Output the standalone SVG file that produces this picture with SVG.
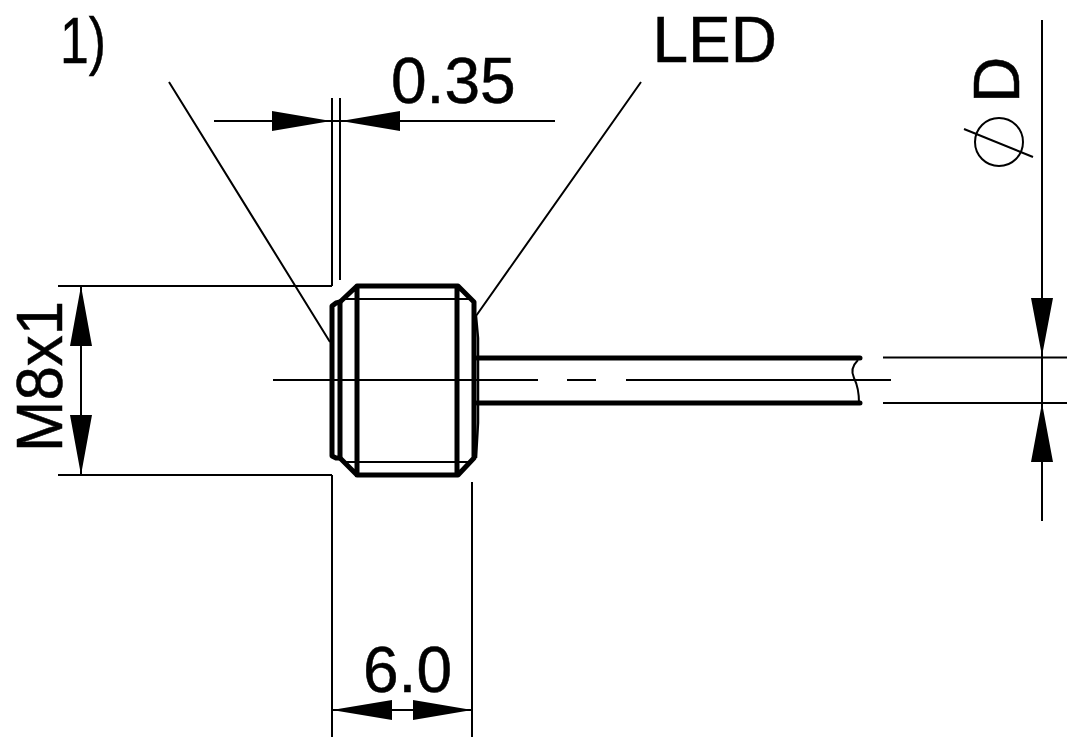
<svg xmlns="http://www.w3.org/2000/svg" width="1082" height="750" viewBox="0 0 1082 750">
<style>
.thin{fill:none;stroke:#000;stroke-width:2}
.thick{fill:none;stroke:#000;stroke-width:5;stroke-linejoin:round;stroke-linecap:round}
.arrow{fill:#000;stroke:none}
.label{font-family:"Liberation Sans",Arial,sans-serif;font-size:64px;fill:#000;stroke:#000;stroke-width:.5}
</style>
<rect width="1082" height="750" fill="#fff"/>
<g id="connectors">
<path class="thin" d="M169 82L330 342M641 82L476 316"/>
<path class="thin" d="M214 121H555M332 98V286M340 98V280M58 286H332M58 475H332"/>
<path class="thin" d="M81 286V475M332 475V737M472 482V737M332 710H472"/>
<path class="thin" d="M1042 20V521M883 357.500H1067M883 403H1067"/>
<path class="thin" d="M273 380H538M567 380H596M626 380H891"/>
<path class="thin" d="M858 360C852 366 851 372 854 378C858 386 859 392 859 403"/>
<path class="arrow" d="M331 121L272 111V131ZM341 121L400 111V131Z"/>
<path class="arrow" d="M81 286L70 346H92ZM81 475L70 415H92Z"/>
<path class="arrow" d="M332 710L392 700V720ZM472 710L413 700V720Z"/>
<path class="arrow" d="M1042 356L1031 298H1053ZM1042 403L1031 462H1053Z"/>
</g>
<g id="sensor-body">
<path class="thick" d="M357 286H458L474 302V458L458 475H357L340 458V302ZM357 286V475M457 286V475"/>
<path class="thick" d="M340 302L336 303L332 306V456L336 458L340 458"/>
<path class="thin" d="M343 299H471M343 462H471"/>
<path d="M476 316L478 338V423L476 458" fill="none" stroke="#000" stroke-width="2.500"/>
</g>
<g id="cable">
<path class="thick" d="M477 358H860M477 403H860"/>
</g>
<g id="labels">
<text class="label" x="60" y="63" textLength="46" lengthAdjust="spacingAndGlyphs">1)</text>
<text class="label" x="391" y="103">0.35</text>
<text class="label" x="652.500" y="62">LED</text>
<text class="label" x="363" y="692">6.0</text>
<text class="label" transform="translate(62 452) rotate(-90)" textLength="151" lengthAdjust="spacingAndGlyphs">M8x1</text>
<text class="label" transform="translate(1019 103) rotate(-90)">D</text>
</g>
<g id="diameter-symbol">
<circle class="thin" cx="999" cy="142" r="24"/>
<path class="thin" d="M964 129L1033 157"/>
</g>
</svg>
